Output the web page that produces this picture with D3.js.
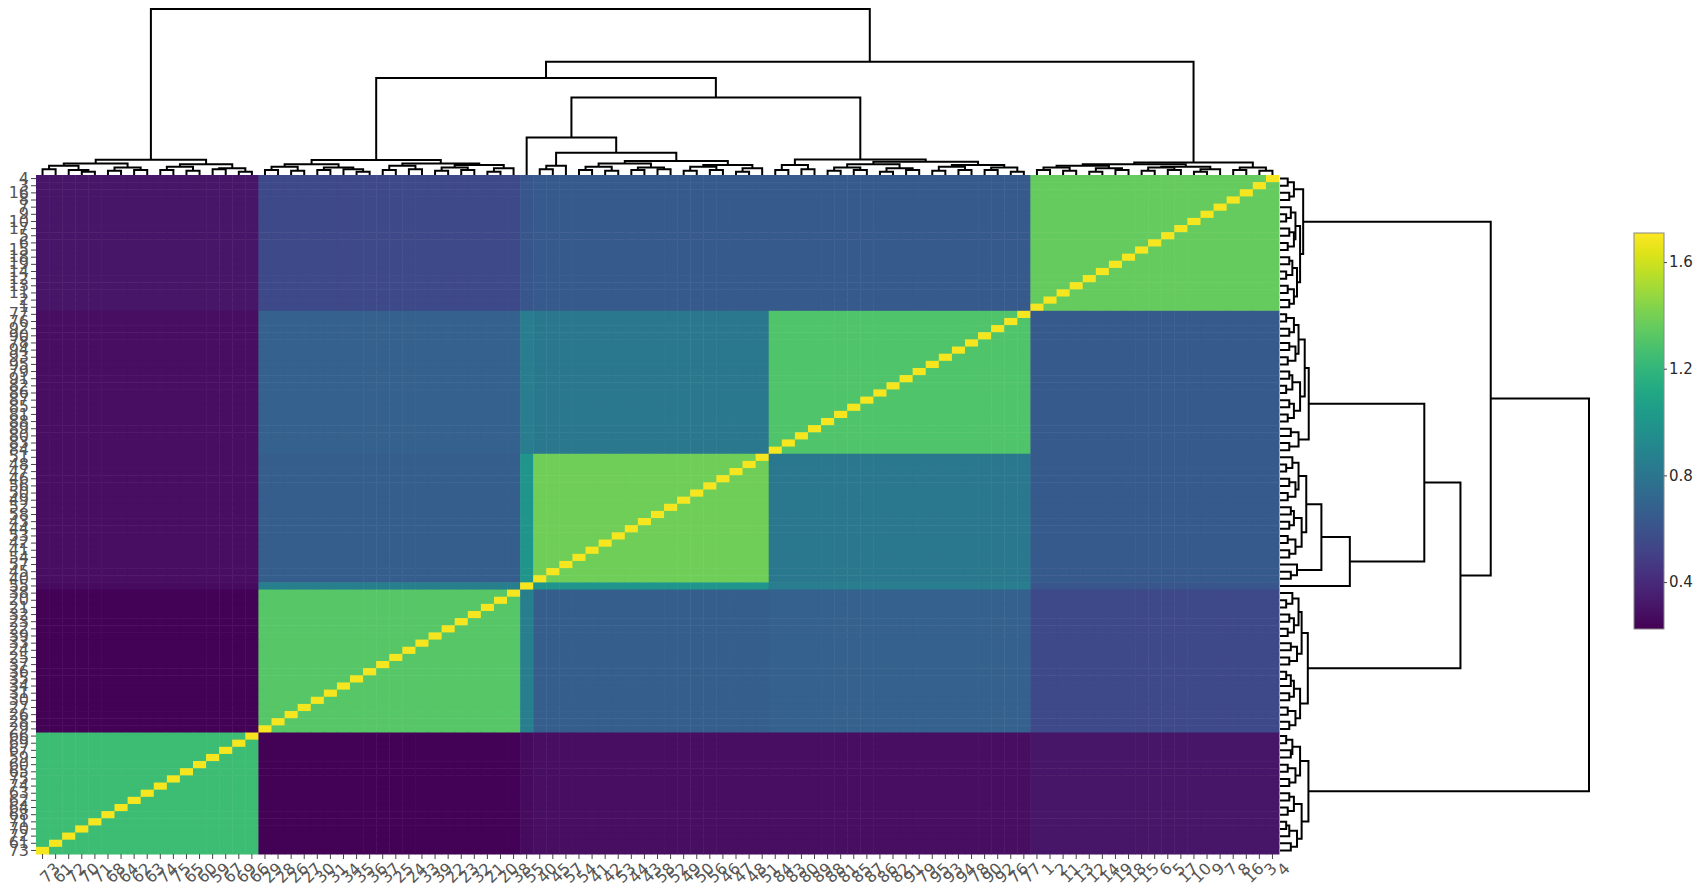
<!DOCTYPE html>
<html><head><meta charset="utf-8">
<script src="https://cdn.jsdelivr.net/npm/d3@7"></script>
<style>body{margin:0;background:#fff;} text{font-family:"DejaVu Sans",Verdana,sans-serif;}</style>
</head><body><svg id="c" width="1698" height="890"></svg>
<script>
// ---- data ----
const clusterA = ["73","61","72","70","71","68","64","62","63","74","75","65","60","59","67","69","66"];
const clusterB = ["29","28","26","27","30","31","34","35","36","37","25","24","33","39","22","23","32","21","20","38"];
const clusterO = ["55"];
const clusterC = ["40","45","57","54","41","42","53","44","43","58","52","49","50","56","46","47","48","51"];
const clusterD = ["84","83","80","89","88","81","85","87","86","82","91","79","95","93","94","78","90","92","76","77"];
const clusterE = ["1","2","11","13","12","14","19","18","15","6","5","17","10","9","7","8","16","3","4"];
const groupNames = ["A","B","O","C","D","E"];
// block means: rows = group of row item, cols = group of column item
const blockValues = [
  [1.24, 0.23, 0.27, 0.28, 0.28, 0.31],
  [0.23, 1.32, 0.86, 0.66, 0.68, 0.55],
  [0.27, 0.86, 1.69, 1.00, 0.85, 0.62],
  [0.28, 0.66, 1.00, 1.38, 0.82, 0.64],
  [0.28, 0.68, 0.85, 0.82, 1.30, 0.64],
  [0.31, 0.55, 0.62, 0.64, 0.64, 1.36]
];
const diagValue = 1.69;
const colorDomain = [0.224, 1.709];
const colorTicks = [0.4, 0.8, 1.2, 1.6];
// dendrogram subtrees (node height written after closing bracket)
const treeA = "((((73,61)0.35,(72,(70,71)0.2)0.3)0.55,((68,64)0.25,(62,63)0.3)0.45)0.7,(((74,75)0.3,(65,60)0.25)0.5,((59,67)0.35,(69,66)0.2)0.4)0.65)0.92";
const treeB = "((((29,28)0.3,(26,27)0.25)0.5,((30,31)0.3,(34,(35,36)0.2)0.35)0.45)0.65,(((37,25)0.3,(24,33)0.35)0.55,(((39,22)0.25,(23,32)0.3)0.45,((21,20)0.2,38)0.4)0.6)0.7)0.9";
const treeC = "(((40,45)0.35,57)0.55,((((54,41)0.3,(42,53)0.25)0.5,((44,43)0.3,(58,52)0.35)0.45)0.7,(((49,50)0.25,(56,46)0.3)0.5,((47,48)0.2,51)0.4)0.6)0.85)1.34";
const treeD = "(((84,83)0.3,(80,89)0.35)0.6,((((88,81)0.25,(85,87)0.3)0.45,((86,82)0.2,(91,79)0.3)0.4)0.65,(((95,93)0.25,(94,78)0.3)0.5,((90,92)0.3,(76,77)0.2)0.45)0.6)0.8)0.93";
const treeE = "((((((1,2)0.3,(11,13)0.25)0.45,((12,14)0.2,(19,18)0.3)0.4)0.55,(((15,6)0.25,(5,17)0.3)0.45,((10,9)0.2,7)0.35)0.5)0.65),((8,16)0.3,(3,4)0.25)0.45)0.75";
const joinHeights = {OC: 2.26, CD: 4.67, BCD: 5.84, BCDE: 6.82, root: 10};

// ---- build ----
const clusters = [clusterA, clusterB, clusterO, clusterC, clusterD, clusterE];
const colLabels = clusters.flat();
const rowLabels = colLabels.slice().reverse();
const groupOf = {};
clusters.forEach((c, gi) => c.forEach(l => groupOf[l] = gi));

const svg = d3.select("#c");
const X0 = 36, X1 = 1279, Y0 = 175, Y1 = 854;
const x = d3.scaleBand().domain(colLabels).range([X0, X1]).padding(0);
const y = d3.scaleBand().domain(rowLabels).range([Y0, Y1]).padding(0);
const color = d3.scaleSequential(d3.interpolateViridis).domain(colorDomain);

const cells = [];
rowLabels.forEach(r => colLabels.forEach(c => {
  const v = r === c ? diagValue : blockValues[groupOf[r]][groupOf[c]];
  cells.push({r, c, v});
}));
svg.append("g").selectAll("rect").data(cells).join("rect")
  .attr("x", d => x(d.c)).attr("y", d => y(d.r))
  .attr("width", x.bandwidth() + 0.5).attr("height", y.bandwidth() + 0.5)
  .attr("fill", d => color(d.v));

// axes
const gx = svg.append("g").attr("transform", `translate(0,${Y1})`)
  .call(d3.axisBottom(x).tickSize(5).tickPadding(3));
gx.select(".domain").remove();
gx.selectAll(".tick line").attr("stroke", "#444");
gx.selectAll(".tick text").attr("fill", "#555").style("font-size", "16px")
  .attr("text-anchor", "end").attr("dy", "0.7em")
  .attr("transform", "translate(5,2) rotate(-45)");

const gy = svg.append("g").attr("transform", `translate(${X0},0)`)
  .call(d3.axisLeft(y).tickSize(5).tickPadding(2));
gy.select(".domain").remove();
gy.selectAll(".tick line").attr("stroke", "#444");
gy.selectAll(".tick text").attr("fill", "#555").style("font-size", "16px");

// dendrogram
const newick = `(${treeA},((${treeB},((55,${treeC})${joinHeights.OC},${treeD})${joinHeights.CD})${joinHeights.BCD},${treeE})${joinHeights.BCDE})${joinHeights.root}`;
function parse(s) {
  let i = 0;
  function node() {
    if (s[i] === "(") {
      i++;
      const kids = [node()];
      while (s[i] === ",") { i++; kids.push(node()); }
      i++;
      let num = "";
      while (i < s.length && /[0-9.]/.test(s[i])) num += s[i++];
      if (kids.length === 1 && num === "") return kids[0];
      if (kids.length === 1) { kids[0].h = +num; return kids[0]; }
      return {children: kids, h: +num};
    }
    let name = "";
    while (i < s.length && !/[,()]/.test(s[i])) name += s[i++];
    return {name: name.trim(), h: 0};
  }
  return node();
}
const tree = parse(newick);

const topH = d3.scaleLinear().domain([0, 10]).range([Y0, 9]);
const rightH = d3.scaleLinear().domain([0, 10]).range([X1 + 1, 1589]);
const topSegs = [], rightSegs = [];
function walk(n) {
  if (!n.children) {
    n.px = x(n.name) + x.bandwidth() / 2;
    n.py = y(n.name) + y.bandwidth() / 2;
    return;
  }
  n.children.forEach(walk);
  n.px = d3.mean(n.children, c => c.px);
  n.py = d3.mean(n.children, c => c.py);
  const [a, b] = n.children;
  topSegs.push(`M${a.px},${topH(a.h)}V${topH(n.h)}H${b.px}V${topH(b.h)}`);
  rightSegs.push(`M${rightH(a.h)},${a.py}H${rightH(n.h)}V${b.py}H${rightH(b.h)}`);
}
walk(tree);
svg.append("g").selectAll("path").data(topSegs.concat(rightSegs)).join("path")
  .attr("d", d => d).attr("fill", "none").attr("stroke", "#000").attr("stroke-width", 2);

// colorbar
const CB = {x: 1634, y: 233, w: 30, h: 396};
const defs = svg.append("defs");
const grad = defs.append("linearGradient").attr("id", "vg").attr("x1", 0).attr("y1", 1).attr("x2", 0).attr("y2", 0);
d3.range(0, 1.0001, 0.05).forEach(t => grad.append("stop").attr("offset", t).attr("stop-color", d3.interpolateViridis(t)));
svg.append("rect").attr("x", CB.x).attr("y", CB.y).attr("width", CB.w).attr("height", CB.h)
  .attr("fill", "url(#vg)").attr("stroke", "#888").attr("stroke-width", 1);
const cbScale = d3.scaleLinear().domain(colorDomain).range([CB.y + CB.h, CB.y]);
const gc = svg.append("g").attr("transform", `translate(${CB.x + CB.w},0)`)
  .call(d3.axisRight(cbScale).tickValues(colorTicks).tickSize(3).tickPadding(2).tickFormat(d3.format(".1f")));
gc.select(".domain").remove();
gc.selectAll(".tick line").attr("stroke", "#444");
gc.selectAll(".tick text").attr("fill", "#2a2a2a").style("font-size", "15px");
</script></body></html>
